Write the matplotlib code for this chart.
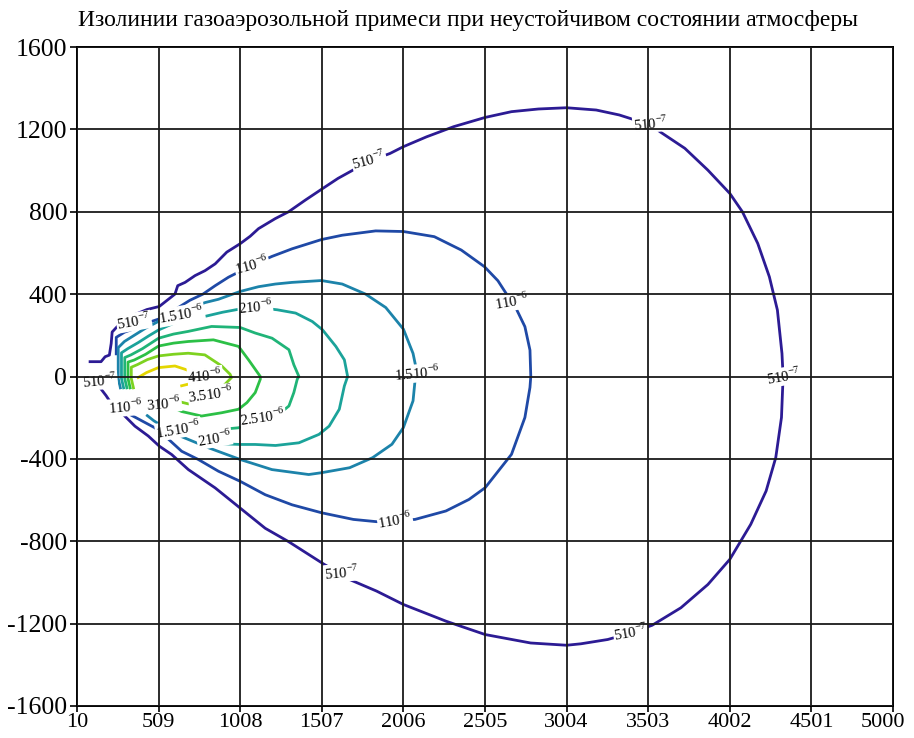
import matplotlib
matplotlib.use("Agg")
import matplotlib.pyplot as plt
from matplotlib.transforms import ScaledTranslation

plt.rcParams['font.family'] = ['Liberation Serif', 'DejaVu Serif']
plt.rcParams['mathtext.fontset'] = 'custom'
plt.rcParams['mathtext.rm'] = 'Liberation Serif'

title = "Изолинии газоаэрозольной примеси при неустойчивом состоянии атмосферы"

x_ticks = [10, 509, 1008, 1507, 2006, 2505, 3004, 3503, 4002, 4501, 5000]
y_ticks = [1600, 1200, 800, 400, 0, -400, -800, -1200, -1600]

# isolines (x, y in metres)
c5e7_x = [90, 157, 182, 208, 219, 225, 300, 437, 513, 609, 626, 671, 732, 793, 855, 926, 1008,
          1069, 1120, 1223, 1304, 1407, 1507, 1606, 1795, 1924, 2006, 2148, 2313, 2506, 2667,
          2832, 3004, 3185, 3326, 3409, 3515, 3574, 3727, 3868, 4002, 4079, 4173, 4244, 4293,
          4321, 4328, 4318, 4283, 4224, 4130, 4002, 3868, 3703, 3527, 3397, 3256, 3091, 3004,
          2784, 2506, 2266, 2006, 1842, 1677, 1630, 1523, 1304, 1161, 1008, 855, 691, 589, 513,
          446, 364, 292, 208, 188, 157]
c5e7_y = [72, 72, 96, 104, 160, 216, 280, 325, 340, 400, 441, 457, 490, 514, 547, 604, 645,
          681, 718, 767, 800, 857, 910, 962, 1045, 1083, 1116, 1164, 1213, 1258, 1286,
          1299, 1305, 1294, 1270, 1249, 1229, 1189, 1108, 1002, 889, 800, 646, 484, 323,
          112, 0, -199, -394, -556, -718, -888, -1010, -1123, -1208, -1245, -1277, -1298, -1305,
          -1294, -1253, -1188, -1107, -1042, -986, -960, -913, -802, -737, -639, -541, -452, -379, -338,
          -289, -241, -184, -117, -93, -61]

c1e6_x = [250, 250, 300, 360, 420, 476, 513, 600, 700, 780, 855, 936, 1008, 1080, 1202, 1325,
          1505, 1632, 1836, 2006, 2195, 2360, 2502, 2584, 2667, 2690, 2749, 2780, 2785, 2780,
          2749, 2667, 2506, 2407, 2266, 2077, 1955, 1842, 1700, 1507, 1325, 1161, 1008, 875,
          752, 650, 548, 486, 333]
c1e6_y = [110, 190, 215, 232, 255, 270, 280, 320, 370, 400, 441, 482, 511, 540, 583, 620,
          665, 686, 707, 704, 679, 614, 533, 465, 363, 339, 242, 128, 0, -53,
          -199, -378, -540, -597, -653, -694, -700, -705, -694, -662, -623, -574, -509, -460,
          -403, -363, -289, -249, -184]

c15e6_x = [275, 262, 262, 300, 360, 430, 509, 650, 793, 875, 1008, 1120, 1223, 1325, 1505, 1632,
           1775, 1898, 2006, 2065, 2089, 2077, 2065, 2006, 1936, 1818, 1677, 1507, 1427, 1202,
           1008, 814, 640, 560, 480, 440]
c15e6_y = [-55, -10, 140, 170, 200, 235, 268, 315, 359, 375, 413, 436, 449, 457, 466, 449,
           400, 335, 230, 112, 20, -21, -118, -248, -329, -394, -443, -467, -476, -452,
           -403, -346, -289, -255, -215, -190]

c2e6_x = [295, 282, 282, 320, 385, 450, 509, 600, 700, 793, 900, 1008, 1100, 1234, 1347, 1449,
          1511, 1593, 1645, 1665, 1645, 1614, 1552, 1490, 1367, 1224, 1100, 1008, 905]
c2e6_y = [-55, -10, 115, 135, 165, 198, 226, 258, 278, 292, 312, 328, 336, 324, 308, 267,
          227, 146, 81, 0, -46, -159, -241, -281, -322, -335, -330, -330, -327]

c25e6_x = [315, 302, 302, 340, 410, 509, 600, 690, 833, 1008, 1100, 1203, 1306, 1336, 1367,
           1357, 1336, 1306, 1250, 1147, 1050, 998, 957]
c25e6_y = [-55, -10, 92, 105, 135, 186, 206, 219, 243, 238, 211, 186, 130, 57, 0,
           -13, -78, -143, -180, -205, -235, -249, -252]

c3e6_x = [335, 322, 322, 360, 430, 509, 600, 690, 844, 998, 1059, 1131, 1131, 1100, 1049, 998,
          895, 772, 650, 542, 480]
c3e6_y = [-55, -10, 70, 80, 108, 148, 162, 170, 178, 146, 81, 0, -13, -78, -127, -159,
          -176, -192, -170, -131, -110]

c35e6_x = [355, 342, 342, 380, 440, 509, 600, 690, 792, 895, 946, 955, 900, 829, 760, 691, 650]
c35e6_y = [-55, -10, 45, 58, 82, 100, 108, 113, 105, 51, 11, -5, -50, -88, -115, -133, -125]

c4e6_x = [384, 435, 507, 609, 671, 740, 800, 750, 691, 650]
c4e6_y = [-5, 19, 43, 51, 35, 15, -5, -28, -37, -45]

lines_x = [c5e7_x, c1e6_x, c15e6_x, c2e6_x, c25e6_x, c3e6_x, c35e6_x, c4e6_x]
lines_y = [c5e7_y, c1e6_y, c15e6_y, c2e6_y, c25e6_y, c3e6_y, c35e6_y, c4e6_y]
colors = ['#2c1b94', '#1f49a6', '#1c83aa', '#1ba39a', '#20b478', '#2cc046', '#7ed220', '#e4d600']

# contour labels
lab_text = ["510$^{\\mathregular{-7}}$"] * 7 + ["110$^{\\mathregular{-6}}$"] * 4 + \
           ["1.510$^{\\mathregular{-6}}$"] * 3 + ["210$^{\\mathregular{-6}}$"] * 2 + \
           ["2.510$^{\\mathregular{-6}}$", "310$^{\\mathregular{-6}}$",
            "3.510$^{\\mathregular{-6}}$", "410$^{\\mathregular{-6}}$"]
lab_x = [150, 358, 1795, 3515, 4330, 3397, 1630,
         1080, 2667, 1955, 305,
         650, 2089, 630,
         1100, 850,
         1147, 542, 829, 793]
lab_y = [-20, 266, 1051, 1229, 0, -1245, -953,
         539, 363, -700, -149,
         300, 15, -255,
         336, -300,
         -200, -131, -88, 5]
lab_rot = [5, 10, 15, 5, 10, 10, 5,
           15, 10, 10, 5,
           10, 5, 10,
           5, 10,
           8, 5, 8, 5]

fig = plt.figure(figsize=(9.14, 7.38), dpi=100)
ax = fig.add_axes([77/914, 1-706/738, (893-77)/914, (706-47)/738])

for xs, ys, c in zip(lines_x, lines_y, colors):
    ax.plot(xs, ys, color=c, lw=2.0, zorder=2, solid_joinstyle='round')

for t, x, y, r in zip(lab_text, lab_x, lab_y, lab_rot):
    ax.text(x, y, t, fontsize=10.5, ha='center', va='center', rotation=r, zorder=2.2,
            bbox=dict(facecolor='white', edgecolor='none', pad=0.3))

ax.set_xlim(10, 5000)
ax.set_ylim(-1600, 1600)
ax.set_xticks(x_ticks)
ax.set_xticklabels([str(v) for v in x_ticks])
ax.set_yticks(y_ticks)
ax.set_yticklabels([str(v) for v in y_ticks])
ax.tick_params(axis='y', labelsize=18.5, length=5, width=1.2, pad=2, colors='black')
ax.tick_params(axis='x', labelsize=16, length=4, width=1.2, pad=1, colors='black')
ax.set_axisbelow(False)
ax.grid(True, color='#1a1a1a', lw=1.3)
for s in ax.spines.values():
    s.set_linewidth(1.4)

# keep the last x label inside the figure
last = ax.get_xticklabels()[-1]
last.set_transform(last.get_transform() + ScaledTranslation(-10/100, 0, fig.dpi_scale_trans))

fig.text(0.512, 0.972, title, ha='center', va='center', fontsize=17)

fig.savefig("out.png", dpi=100)
